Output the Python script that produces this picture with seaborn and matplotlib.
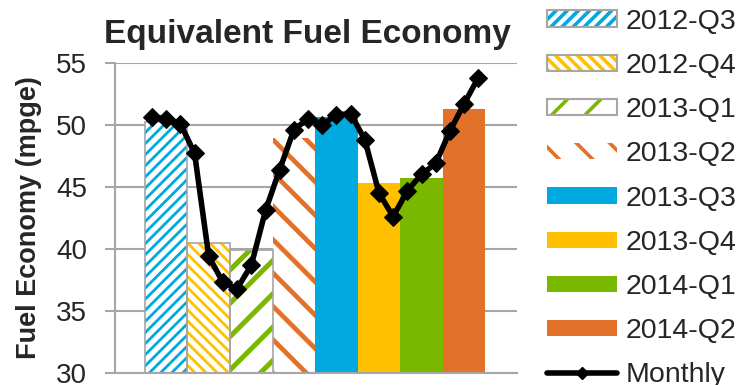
"""
Equivalent fuel economy by quarter with the monthly series on top
"""
# Libraries
import numpy as np
import seaborn as sns
import matplotlib.pyplot as plt
import matplotlib.patches as mpatches
from matplotlib.lines import Line2D
from matplotlib.legend_handler import HandlerTuple

# ---------------------------------
# Data
# ---------------------------------
quarters = ['2012-Q3', '2012-Q4', '2013-Q1', '2013-Q2',
            '2013-Q3', '2013-Q4', '2014-Q1', '2014-Q2']
quarter_mpge = [50.2, 40.5, 39.9, 48.9, 50.6, 45.3, 45.7, 51.3]

monthly_mpge = [50.6, 50.5, 50.1, 47.7, 39.4, 37.3, 36.8, 38.7,
                43.1, 46.4, 49.6, 50.5, 50.0, 50.8, 50.9, 48.8,
                44.5, 42.6, 44.7, 46.0, 46.9, 49.5, 51.7, 53.8]

yticks = [30, 35, 40, 45, 50, 55]

# ---------------------------------
# Styles
# ---------------------------------
colors = ['#00A9E0', '#FFC000', '#7AB800', '#E2722A',
          '#00A9E0', '#FFC000', '#7AB800', '#E2722A']
hatches = ['///', '\\\\\\', '/', '\\', None, None, None, None]
hatch_lw = [2.0, 2.0, 3.6, 3.4, 0, 0, 0, 0]
outlined = [True, True, True, False, False, False, False, False]
grid_gray = '#A6A6A6'

sns.set_theme(style="white")
plt.rcParams['font.family'] = ['Liberation Sans', 'DejaVu Sans']
plt.rcParams['hatch.linewidth'] = 2.6

# ---------------------------------
# Plot
# ---------------------------------
fig = plt.figure(figsize=(7.38, 3.85), dpi=100)
ax = fig.add_axes([0.156, 0.031, 0.545, 0.806])

# Quarterly bars
sns.barplot(x=quarters, y=quarter_mpge, hue=quarters, palette=colors,
            legend=False, width=1.0, saturation=1, ax=ax, zorder=2)

# Hatch the first four quarters
for p, c, h, lw, out in zip(ax.patches, colors, hatches, hatch_lw, outlined):
    p.set_linewidth(0)
    if h is None:
        continue
    p.set_facecolor('white')
    p.set_edgecolor(c)
    p.set_hatch(h)
    if hasattr(p, 'set_hatch_linewidth'):
        p.set_hatch_linewidth(lw)
    if out:
        ax.add_patch(mpatches.Rectangle(p.get_xy(), p.get_width(),
                                        p.get_height(), fill=False,
                                        edgecolor=grid_gray, lw=1.2,
                                        zorder=2.5))

# Monthly line: three months inside each quarter bar
month_x = (np.arange(len(monthly_mpge)) + 0.5) / 3 - 0.5
sns.lineplot(x=month_x, y=monthly_mpge, sort=False, estimator=None,
             color='black', lw=4, marker='D', markersize=9,
             markeredgecolor='black', ax=ax, zorder=3)

# Axes config
ax.set_ylim(30, 55)
ax.set_xlim(-1.2, 8.25)
ax.set_yticks(yticks)
ax.set_xticks([])
ax.yaxis.grid(True, color=grid_gray, lw=1.5, zorder=0)
ax.set_axisbelow(True)
for s in ['top', 'right']:
    ax.spines[s].set_visible(False)
for s in ['left', 'bottom']:
    ax.spines[s].set_color(grid_gray)
    ax.spines[s].set_linewidth(1.5)
ax.tick_params(axis='y', left=True, length=7, width=1.5, color=grid_gray,
               labelsize=20, pad=13)
ax.set_ylabel('Fuel Economy (mpge)', fontsize=19.5, fontweight='bold',
              labelpad=10)
ax.set_title('Equivalent Fuel Economy', fontsize=24, fontweight='bold',
             pad=14, x=0.478)

# Legend
handles = []
for c, h, out in zip(colors, hatches, outlined):
    if h is None:
        handles.append(mpatches.Patch(facecolor=c, edgecolor='none'))
    else:
        fill = mpatches.Patch(facecolor='white', edgecolor=c, hatch=h, lw=0)
        if out:
            border = mpatches.Patch(fill=False, edgecolor=grid_gray, lw=1.5)
            handles.append((fill, border))
        else:
            handles.append(fill)
handles.append(Line2D([], [], color='black', lw=4, marker='D',
                      markersize=6))
labels = quarters + ['Monthly']

fig.legend(handles, labels, loc='upper left',
           bbox_to_anchor=(0.738, 0.985), frameon=False, fontsize=20.5,
           handlelength=2.45, handleheight=0.5, handletextpad=0.28,
           labelspacing=0.64, borderpad=0.1, borderaxespad=0,
           handler_map={tuple: HandlerTuple(ndivide=1, pad=0)})

# Save
fig.savefig('out.png', dpi=100)
